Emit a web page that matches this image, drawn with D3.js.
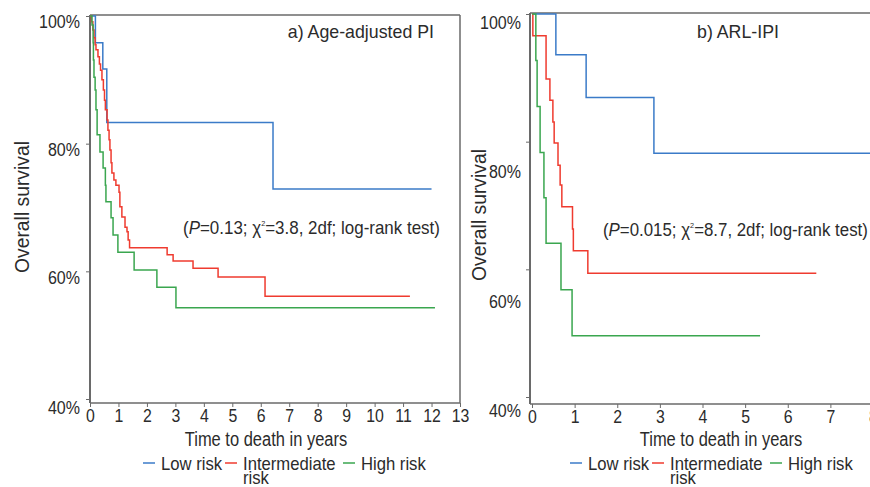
<!DOCTYPE html>
<html>
<head>
<meta charset="utf-8">
<script src="https://cdn.jsdelivr.net/npm/d3@7"></script>
<style>
  body { margin: 0; background: #fff; }
  svg { display: block; font-family: "Liberation Sans", Arial, sans-serif; }
  .axis path, .axis line { stroke: #6a6a6a; }
  .axis text { fill: #2b2b2b; font-size: 18px; }
  .lbl { fill: #2b2b2b; }
</style>
</head>
<body>
<script>
// ---- data ----
var groups = ["Low risk", "Intermediate risk", "High risk"];
var yTicks = [40, 60, 80, 100];

// panel a) Age-adjusted PI : [time (years), survival %]
var aLowTime  = [0, 0.19, 0.45, 0.59, 6.43, 12.0];
var aLowSurv  = [100, 95.8, 91.7, 83.3, 72.9, 72.9];
var aIntTime  = [0, 0.05, 0.10, 0.14, 0.18, 0.21, 0.28, 0.33, 0.37, 0.42, 0.47, 0.51, 0.54, 0.60, 0.63, 0.67,
                 0.70, 0.74, 0.77, 0.84, 0.91, 1.02, 1.05, 1.12, 1.23, 1.30, 1.34, 1.39, 2.71, 2.92, 3.62, 4.50, 6.15, 11.24];
var aIntSurv  = [100, 99.1, 97.8, 96.6, 95.5, 94.7, 93.6, 92.5, 91.5, 90.0, 88.4, 86.8, 85.3, 83.7, 82.1, 80.6,
                 79.0, 77.0, 75.4, 74.3, 73.5, 72.4, 70.1, 68.5, 66.9, 66.2, 64.9, 63.7, 62.6, 61.6, 60.5, 59.1, 56.1, 56.1];
var aHighTime = [0, 0.07, 0.11, 0.12, 0.14, 0.18, 0.21, 0.25, 0.35, 0.46, 0.54, 0.56, 0.74, 0.81, 0.98, 1.55, 2.35, 3.02, 12.12];
var aHighSurv = [100, 98.6, 95.8, 93.1, 90.4, 88.4, 85.3, 81.4, 78.7, 76.2, 73.5, 70.9, 68.4, 65.7, 63.0, 60.2, 57.5, 54.3, 54.3];

// panel b) ARL-IPI
var bLowTime  = [0, 0.56, 1.27, 2.86, 8.3];
var bLowSurv  = [100, 93.6, 86.9, 78.2, 78.2];
var bIntTime  = [0, 0.02, 0.33, 0.42, 0.49, 0.52, 0.61, 0.66, 0.70, 0.95, 0.97, 1.31, 6.67];
var bIntSurv  = [100, 96.6, 89.8, 86.5, 83.1, 79.8, 76.3, 73.2, 69.8, 66.3, 62.9, 59.4, 59.4];
var bHighTime = [0, 0.09, 0.12, 0.19, 0.28, 0.33, 0.68, 0.94, 5.35];
var bHighSurv = [100, 92.7, 85.5, 78.3, 71.2, 64.1, 56.8, 49.6, 49.6];

var colors = ["#3b7bc8", "#ef3b2f", "#3aa64f"];

var width = 870, height = 487;
var svg = d3.select("body").append("svg").attr("width", width).attr("height", height);

function zip(t, s) { return t.map(function(d, i) { return [d, s[i]]; }); }

// squeeze text horizontally, the original uses a condensed face
function condense(sel, factor) {
    sel.each(function() {
        var w = this.getComputedTextLength();
        d3.select(this).attr("textLength", w * factor).attr("lengthAdjust", "spacingAndGlyphs");
    });
}

function drawPanel(opt) {
    var g = svg.append("g");
    var x = d3.scaleLinear().domain([0, opt.xMax]).range([opt.x0, opt.x1]);
    var y = d3.scaleLinear().domain([40, 100]).range([opt.y40, opt.y100]);

    // frame: top and right border
    g.append("line").attr("x1", opt.axisX).attr("x2", opt.frameRight)
        .attr("y1", opt.top).attr("y2", opt.top)
        .attr("stroke", "#6a6a6a").attr("stroke-width", 1.5);
    if (opt.frameRight < width) {
        g.append("line").attr("x1", opt.frameRight).attr("x2", opt.frameRight)
            .attr("y1", opt.top).attr("y2", opt.bottom)
            .attr("stroke", "#6a6a6a").attr("stroke-width", 1.5);
    }

    // x axis
    var xa = g.append("g").attr("class", "axis")
        .attr("transform", "translate(0," + opt.bottom + ")")
        .call(d3.axisBottom(x).tickValues(d3.range(0, opt.xMax + 1)).tickSize(4).tickPadding(2).tickSizeOuter(0));
    xa.select(".domain").remove();
    condense(xa.selectAll(".tick text"), 0.88);
    g.append("line").attr("x1", opt.axisX).attr("x2", opt.frameRight)
        .attr("y1", opt.bottom).attr("y2", opt.bottom)
        .attr("stroke", "#6a6a6a").attr("stroke-width", 1.5);

    // y axis
    var ya = g.append("g").attr("class", "axis")
        .attr("transform", "translate(" + opt.axisX + ",0)")
        .call(d3.axisLeft(y).tickValues(yTicks).tickSize(4).tickPadding(6)
            .tickFormat(function(d) { return d + "%"; }));
    ya.select(".domain").remove();
    ya.selectAll(".tick text")
        .attr("x", -opt.labelGap)
        .attr("dy", function(d, i) { return (0.35 * 18 + opt.labelShift[i]) + "px"; });
    condense(ya.selectAll(".tick text"), 0.89);
    g.append("line").attr("x1", opt.axisX).attr("x2", opt.axisX)
        .attr("y1", opt.top).attr("y2", opt.bottom)
        .attr("stroke", "#6a6a6a").attr("stroke-width", 2);

    // survival curves
    var line = d3.line()
        .x(function(d) { return x(d[0]); })
        .y(function(d) { return y(d[1]); })
        .curve(d3.curveStepAfter);
    opt.series.forEach(function(s, i) {
        g.append("path").datum(s)
            .attr("fill", "none")
            .attr("stroke", colors[i])
            .attr("stroke-width", 1.5)
            .attr("d", line);
    });

    // panel title
    var title = g.append("text").attr("class", "lbl")
        .attr("x", opt.titleX).attr("y", opt.titleY)
        .attr("text-anchor", opt.titleAnchor)
        .attr("font-size", 18.5).text(opt.title);
    condense(title, 0.96);

    // log-rank annotation, squeezed to the measured width
    var stG = g.append("g");
    var st = stG.append("text").attr("class", "lbl")
        .attr("x", 0).attr("y", 0).attr("font-size", 18.5);
    st.append("tspan").text("(");
    st.append("tspan").attr("font-style", "italic").text("P");
    st.append("tspan").text("=" + opt.p + "; \u03c7");
    st.append("tspan").attr("font-size", 8).attr("dy", -8).text("2");
    st.append("tspan").attr("dy", 8).text("=" + opt.chi + ", 2df; log-rank test)");
    var bw = st.node().getBBox().width;
    var k = opt.statW / bw;
    stG.attr("transform", "translate(" + (opt.statX - opt.statW) + "," + opt.statY + ") scale(" + k + ",1)");

    var yl = g.append("text").attr("class", "lbl")
        .attr("transform", "translate(" + opt.yLabX + "," + opt.yLabY + ") rotate(-90)")
        .attr("text-anchor", "middle").attr("font-size", 19.5)
        .text("Overall survival");
    condense(yl, 0.99);

    var xl = g.append("text").attr("class", "lbl")
        .attr("x", opt.xLabX).attr("y", 446)
        .attr("text-anchor", "middle").attr("font-size", 19.5)
        .text("Time to death in years");
    condense(xl, 0.845);

    // legend
    var lx = opt.legX;
    var leg = g.append("g").attr("transform", "translate(0,463)");
    var items = [
        { off: 0, text: ["Low risk"] },
        { off: 82, text: ["Intermediate", "risk"] },
        { off: 200, text: ["High risk"] }
    ];
    items.forEach(function(it, i) {
        leg.append("line")
            .attr("x1", lx + it.off).attr("x2", lx + it.off + 12)
            .attr("y1", 0).attr("y2", 0)
            .attr("stroke", colors[i]).attr("stroke-width", 1.5);
        it.text.forEach(function(t, j) {
            var tx = leg.append("text").attr("class", "lbl")
                .attr("x", lx + it.off + 18).attr("y", 7 + j * 14)
                .attr("font-size", 18.5).text(j === 0 && it.text.length === 1 ? groups[i] : t);
            condense(tx, 0.9);
        });
    });
}

drawPanel({
    xMax: 13, x0: 90, x1: 460, axisX: 90, frameRight: 460,
    top: 15, bottom: 403, y40: 399, y100: 16,
    labelShift: [8, 6, 6, 5], labelGap: 10,
    series: [zip(aLowTime, aLowSurv), zip(aIntTime, aIntSurv), zip(aHighTime, aHighSurv)],
    title: "a) Age-adjusted PI", titleX: 434, titleY: 38, titleAnchor: "end",
    p: "0.13", chi: "3.8", statX: 440, statY: 234, statW: 257,
    yLabX: 29, yLabY: 207, xLabX: 266, legX: 143
});

drawPanel({
    xMax: 8, x0: 532, x1: 873, axisX: 530, frameRight: 870,
    top: 13, bottom: 404, y40: 397, y100: 14,
    labelShift: [13, 32, 30, 8], labelGap: 9,
    series: [zip(bLowTime, bLowSurv), zip(bIntTime, bIntSurv), zip(bHighTime, bHighSurv)],
    title: "b) ARL-IPI", titleX: 738, titleY: 38, titleAnchor: "middle",
    p: "0.015", chi: "8.7", statX: 868, statY: 236, statW: 265,
    yLabX: 486, yLabY: 215, xLabX: 721, legX: 570
});
</script>
</body>
</html>
